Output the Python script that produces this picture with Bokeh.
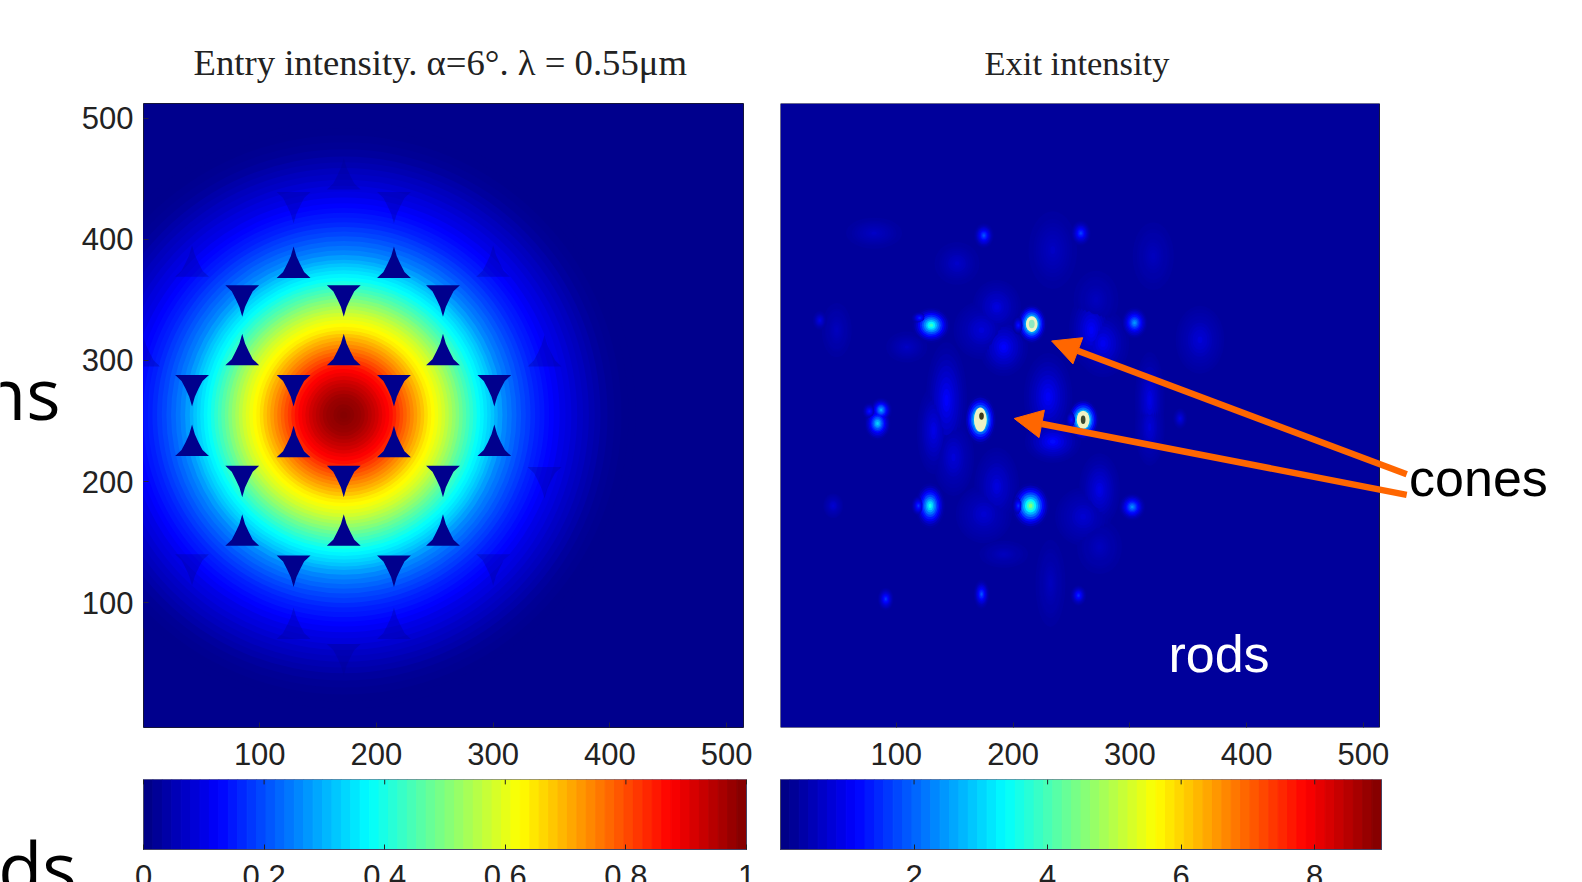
from bokeh.plotting import figure
from bokeh.layouts import column, row
from bokeh.models import (FixedTicker, LinearColorMapper, Label, Arrow, NormalHead, Range1d)
from bokeh.embed import file_html
from bokeh.resources import INLINE
import numpy as np

# ---------- data ----------
entry_title = "Entry intensity. \u03b1=6\u00b0. \u03bb = 0.55\u03bcm"
exit_title = "Exit intensity"
axis_ticks = [100, 200, 300, 400, 500]
cb_left_ticks = [0, 0.2, 0.4, 0.6, 0.8, 1]
cb_right_ticks = [2, 4, 6, 8]

beam_x, beam_y = 172, 255
ring_r = [250,244,238,232,226,220,215,210,205,200,195,190,185,180,176,172,168,164,160,156,152,148,144,140,136,132,129,126,123,120,117,114,111,108,105,102,99,96,93,90,87,84,81,78,75,72,69,66,63,60,57,54,51,48,45,42,39,36,33,30,27,24,21,18,15,12,9,6,3]
ring_v = [.013,.015,.018,.022,.03,.04,.05,.06,.07,.08,.09,.10,.115,.125,.135,.145,.155,.165,.18,.195,.21,.225,.24,.255,.28,.30,.32,.335,.35,.365,.38,.40,.42,.44,.46,.48,.50,.52,.54,.56,.58,.595,.61,.625,.64,.66,.68,.70,.72,.74,.76,.78,.80,.82,.84,.86,.875,.89,.905,.92,.93,.945,.955,.965,.975,.98,.985,.99,.995]

# dark gaps of the fibre lattice (centre x, centre y)
up_x = [129,215, 85,172,257, 42,129,215,301, 85,172,257]
up_y = [379,379, 307,307,307, 232,231,231,232, 158,158,158]
dn_x = [85,172,257, 42,129,215,301, 85,172,257, 129,215]
dn_y = [351,351,351, 277,277,277,277, 202,202,202, 128,128]
faint_up_x = [172,42,300,129,215,344,0]
faint_up_y = [452,380,380,81,81,306,306]
faint_dn_x = [129,215,42,300,172,344]
faint_dn_y = [428,428,129,129,55,201]

# exit intensity: soft blobs
blob_x = [143,132,149,230,234,192,173,186,267,277,317,317,360,274,260,186,175,232,81,234,152,320,49,109,274,192,271]
blob_y = [267,242,220,270,233,311,325,344,325,314,267,245,317,193,171,196,173,116,405,391,380,386,325,311,146,140,350]
blob_w = [22,18,22,26,30,26,30,26,24,28,16,16,26,22,30,24,30,16,30,26,24,22,16,22,24,26,24]
blob_h = [60,45,40,45,22,30,30,28,40,35,50,40,35,38,30,40,30,45,16,40,22,35,28,16,28,14,30]
blob_v = [1.25,1.0,.85,1.2,1.35,1.25,.85,.9,1.2,1.1,1.0,.85,.85,1.0,.8,.9,.8,.6,.65,.65,.7,.6,.6,.65,.6,.6,.6]

# exit intensity: bright spots
spot_x = [172,260,216,215,130,129,87,84,304,302,175,258,91,173,256,120,119,204.5,204.5,77,250,34.5,343,46]
spot_y = [251,251,330,180,329,180,259,248,331,179,403,405,103,107,106,335,180,329,180,258,251,333,252,180]
spot_w = [16,16,15,19,19,15,11,13,13,13,10,10,8,8,8,8,7,6,6,7,6,7,7,10]
spot_h = [24,20,19,22,17,22,12,16,15,13,12,12,11,14,10,6,10,9,10,8,9,9,10,12]
spot_v = [6.2,6.5,6,5.2,4.4,4.0,3,3.4,2.8,2.7,2.1,1.9,1.8,2.1,1.7,1.7,1.8,1.5,1.8,1.5,1.4,1.0,1.0,.8]
hot_x = [172,260,216]
hot_y = [251,251,330]
core_x = [173,260,216]
core_y = [254,251,330]
core_colors = ["#3a3a1c", "#3a4a30", "#8fe8c0"]

arrow_tip_x = [233, 201]
arrow_tip_y = [316, 252]
arrow_tail_x = [537, 537]
arrow_tail_y = [206, 189]

# ---------- shared look ----------
def jet(n=64):
    t = (np.arange(n) + .5) / n
    f = lambda c: np.clip(1.5 - np.abs(4 * t - c), 0, 1)
    r, g, b = f(3), f(2), f(1)
    return ["#%02x%02x%02x" % (int(a*255), int(b2*255), int(c*255)) for a, b2, c in zip(r, g, b)]

JET = jet()
JET256 = jet(256)
NAVY = "#00008d"
RIGHT_BG = "#00009b"
TICK_FONT = "Liberation Sans"
TICK_SIZE = "31px"
TICK_COLOR = "#222222"
ORANGE = "#ff6600"

def heat(width, left, right, xr, title, y_axis, size, title_offset, standoff):
    p = figure(width=width, height=777, output_backend="svg", toolbar_location=None,
               x_range=Range1d(*xr), y_range=Range1d(-3, 512),
               min_border_left=left, min_border_right=right, min_border_top=103, min_border_bottom=50,
               y_axis_location="left" if y_axis else None,
               title=title, border_fill_color="white")
    p.grid.visible = False
    p.title.align = "left"
    p.title.offset = title_offset
    p.title.text_font = "Liberation Serif"
    p.title.text_font_size = size
    p.title.text_font_style = "normal"
    p.title.text_color = "#222222"
    p.title.standoff = standoff
    for a in p.xaxis:
        a.major_label_standoff = 15
    if y_axis:
        p.yaxis[0].major_label_standoff = 10
    axes = list(p.xaxis) + (list(p.yaxis) if y_axis else [])
    for a in axes:
        a.ticker = FixedTicker(ticks=axis_ticks)
        a.major_tick_in = 5
        a.major_tick_out = 0
        a.minor_tick_line_color = None
        a.axis_line_color = None
        a.major_tick_line_color = "#222244"
        a.major_label_text_font = TICK_FONT
        a.major_label_text_font_size = TICK_SIZE
        a.major_label_text_color = TICK_COLOR
    return p

def colourbar(width, left, right, low, high, frame_w, pad, ticks, mapper, levels):
    # the frame runs down to the page edge and past the bar's ends, so that the tick labels
    # are cut only by the page, as in the reference
    unit = (high - low) / frame_w
    p = figure(width=width, height=105, output_backend="svg", toolbar_location=None,
               x_range=Range1d(low - pad * unit, high + pad * unit), y_range=Range1d(-33 / 70, 1),
               y_axis_location=None,
               min_border_left=left - pad, min_border_right=right - pad, min_border_top=2, min_border_bottom=0,
               border_fill_color="white", outline_line_color=None)
    p.grid.visible = False
    step = levels[1] - levels[0]
    src = dict(l=[v - step/2 for v in levels], r=[v + step/2 for v in levels], v=levels)
    p.quad(left="l", right="r", bottom=0, top=1, source=src,
           fill_color={"field": "v", "transform": mapper}, line_color={"field": "v", "transform": mapper})
    p.quad(left=[low], right=[high], bottom=[0], top=[1], fill_color=None, line_color="#444466")
    p.segment(x0=ticks, x1=ticks, y0=[.93]*len(ticks), y1=[1]*len(ticks), line_color="#222222", line_width=1)
    a = p.xaxis[0]
    a.fixed_location = 0
    a.ticker = FixedTicker(ticks=ticks)
    a.major_tick_in = 5
    a.major_tick_out = 0
    a.minor_tick_line_color = None
    a.axis_line_color = None
    a.major_tick_line_color = "#222222"
    a.major_label_text_font = TICK_FONT
    a.major_label_text_font_size = TICK_SIZE
    a.major_label_text_color = TICK_COLOR
    a.major_label_standoff = 15
    return p

def text_column(height, text, x, y, baseline):
    p = figure(width=78, height=height, output_backend="svg", toolbar_location=None,
               x_range=Range1d(0, 78), y_range=Range1d(0, height),
               x_axis_location=None, y_axis_location=None, min_border=0, outline_line_color=None)
    p.grid.visible = False
    p.add_layout(Label(x=x, y=y, text=text, text_align="right", text_baseline=baseline, text_font="Open Sans",
                       text_font_size="72px", text_color="black"))
    return p

# ---------- left panel ----------
left = heat(683, 64, 18, (0.4, 514.5), entry_title, True, "36.7px", 50, 41)
left.background_fill_color = NAVY
left.outline_line_color = "#15153a"
left.ellipse(x=[beam_x]*len(ring_r), y=[beam_y]*len(ring_r),
             width=[2*r for r in ring_r], height=[2*r*.97 for r in ring_r],
             fill_color=[JET256[min(255, int(v*256))] for v in ring_v], line_color=None)

UP_SHAPE_X = [-14.5,-9,-5.5,-2.4,0,2.4,5.5,9,14.5]
UP_SHAPE_Y = [-11,-6,.5,7,15,7,.5,-6,-11]
def lattice(xs, ys, flip):
    sy = -1 if flip else 1
    return ([[x + d for d in UP_SHAPE_X] for x in xs],
            [[y + sy * d for d in UP_SHAPE_Y] for y in ys])
for xs, ys, flip, alpha in ((up_x, up_y, False, 1), (dn_x, dn_y, True, 1),
                            (faint_up_x, faint_up_y, False, .3), (faint_dn_x, faint_dn_y, True, .3)):
    px, py = lattice(xs, ys, flip)
    left.patches(px, py, fill_color=NAVY, fill_alpha=alpha, line_color=None)

# ---------- right panel (its frame runs on to the page edge, for the callouts) ----------
map2 = LinearColorMapper(palette=JET256, low=0, high=9)
right = heat(821, 19, 0, (0.9, 687.5), exit_title, False, "34.5px", 204, 44)
right.outline_line_color = None
right.quad(left=[0.9], right=[513.7], bottom=[-3], top=[512], fill_color=RIGHT_BG, line_color="#15153a")
BG = 0.3
def nested(xs, ys, ws, hs, vs, scale, steps):
    out = dict(x=[], y=[], w=[], h=[], v=[])
    for f in steps:
        for x, y, w, h, v in zip(xs, ys, ws, hs, vs):
            out["x"].append(x); out["y"].append(y)
            out["w"].append(w * scale * f); out["h"].append(h * scale * f)
            out["v"].append(BG + (v - BG) * (1 - f) ** 1.4)
    return out
STEPS = [1, .9, .8, .7, .6, .5, .4, .3, .2, .1]
right.ellipse(x="x", y="y", width="w", height="h", source=nested(blob_x, blob_y, blob_w, blob_h, blob_v, 1.6, STEPS),
              fill_color={"field": "v", "transform": map2}, line_color=None)
right.ellipse(x="x", y="y", width="w", height="h", source=nested(spot_x, spot_y, spot_w, spot_h, spot_v, 1.7, STEPS),
              fill_color={"field": "v", "transform": map2}, line_color=None)
right.ellipse(x=hot_x, y=hot_y, width=[11, 11, 10], height=[20, 15, 13], fill_color="#eef3c4", line_color=None)
right.ellipse(x=core_x, y=core_y, width=[4, 4, 5], height=[6, 7, 7], fill_color=core_colors, line_color=None)
right.add_layout(Label(x=333, y=34, text="rods", text_font="Liberation Sans",
                       text_font_size="52px", text_color="white"))
right.add_layout(Label(x=539, y=179, text="cones", text_font="Liberation Sans",
                       text_font_size="52px", text_color="black"))
for tx, ty, ex, ey in zip(arrow_tail_x, arrow_tail_y, arrow_tip_x, arrow_tip_y):
    right.add_layout(Arrow(x_start=tx, y_start=ty, x_end=ex, y_end=ey, line_color=ORANGE, line_width=6.5,
                           end=NormalHead(size=28, fill_color=ORANGE, line_color=ORANGE)))

# ---------- colour bars ----------
levels1 = [float(v) for v in (np.arange(64) + .5) / 64]
levels2 = [v * 9 for v in levels1]
cb1 = colourbar(683, 65, 15, 0, 1, 603, 15, cb_left_ticks, LinearColorMapper(palette=JET, low=0, high=1), levels1)
cb2 = colourbar(821, 19, 201, 0, 9, 601, 15, cb_right_ticks, LinearColorMapper(palette=JET, low=0, high=9), levels2)
cb1.xaxis[0].major_label_overrides = {0: "0", 1: "1"}

page = column(row(text_column(777, "ns", 60, 357, "bottom"), left, right),
              row(text_column(105, "ods", 76, 67, "top"), cb1, cb2))
open("out.html", "w").write(file_html(page, INLINE))
